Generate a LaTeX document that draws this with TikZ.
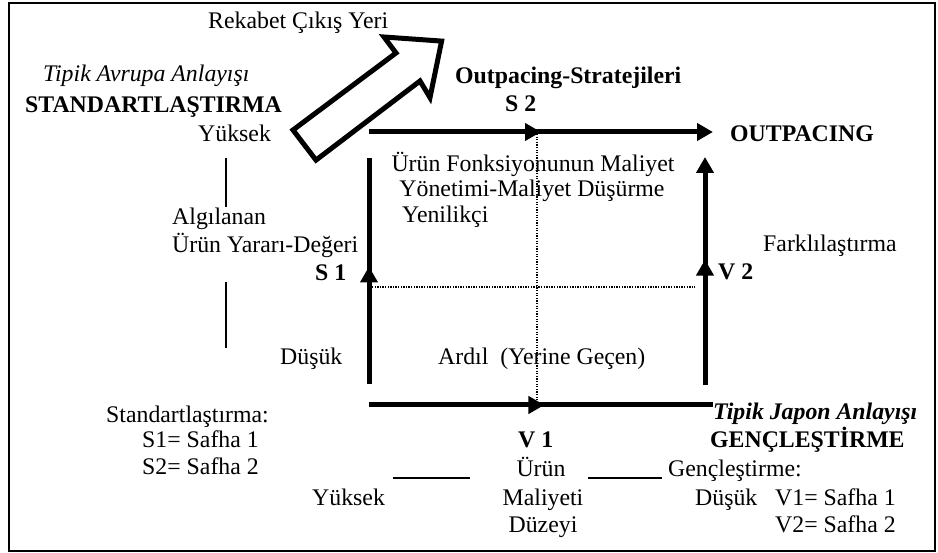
\documentclass[tikz,border=0pt]{standalone}
\usepackage{fontspec}
\setmainfont{Liberation Serif}
\usetikzlibrary{arrows.meta,decorations.markings}
\begin{document}
\begin{tikzpicture}[x=1pt,y=-1pt,
  txt/.style={anchor=base west,inner sep=0pt,font=\fontsize{23.8}{26}\selectfont},
  txtc/.style={anchor=base,inner sep=0pt,font=\fontsize{23.8}{26}\selectfont},
  bld/.style={anchor=base west,inner sep=0pt,font=\fontsize{23.8}{26}\selectfont\bfseries},
  axisline/.style={line width=5pt},
  tipend/.style={-{Triangle[length=16pt,width=17pt]}},
  midarrow/.style={postaction={decorate},decoration={markings,
     mark=at position #1 with {\arrow{Triangle[length=16pt,width=17pt]}}}},
  dotline/.style={line width=1.3pt,dash pattern=on 1.3pt off 1.3pt},
  thinline/.style={line width=1.2pt}
]
\useasboundingbox (0,0) rectangle (938,553);
\draw[line width=1.8pt] (9,3) rectangle (935,551);

% axis corners
\coordinate (L0) at (369,384);
\coordinate (L1) at (369,158);
\coordinate (T0) at (369,132);
\coordinate (T1) at (713,132);
\coordinate (B0) at (369,405);
\coordinate (B1) at (713,405);
\coordinate (R0) at (705,385);
\coordinate (R1) at (705,157);
\coordinate (DV0) at (537,134);
\coordinate (DV1) at (537,404);
\coordinate (DH0) at (372,287);
\coordinate (DH1) at (695,287);

\draw[dotline] (DV0) -- (DV1);
\draw[dotline] (DH0) -- (DH1);
\draw[axisline,midarrow=0.52] (L0) -- (L1);
\draw[axisline,tipend,midarrow=0.5] (T0) -- (T1);
\draw[axisline,midarrow=0.51] (B0) -- (B1);
\draw[axisline,tipend,midarrow=0.55] (R0) -- (R1);

% big outlined arrow
\draw[line width=5pt,fill=white,line join=miter]
  (293,130) -- (396,53) -- (384,37) -- (441.6,41.1) -- (430,97.6)
  -- (420,81) -- (316,160.1) -- cycle;

% thin axis-label lines
\coordinate (V0) at (226,158);
\coordinate (V1) at (226,207);
\coordinate (V2) at (226,282);
\coordinate (V3) at (226,348);
\draw[thinline] (V0) -- (V1);
\draw[thinline] (V2) -- (V3);
\coordinate (H0) at (393,478);
\coordinate (H1) at (470,478);
\coordinate (H2) at (588,478);
\coordinate (H3) at (662,478);
\draw[thinline] (H0) -- (H1);
\draw[thinline] (H2) -- (H3);

% texts
\node[txt] (rek) at (208,29) {Rekabet Çıkış Yeri};
\node[txt,font=\fontsize{23.8}{26}\selectfont\itshape] (avr) at (43,82) {Tipik Avrupa Anlayışı};
\node[bld] (std) at (25,113) {STANDARTLAŞTIRMA};
\node[txt] (yuk1) at (198,142) {Yüksek};
\node[txt] (alg) at (172,225) {Algılanan};
\node[txt] (ury) at (172,253) {Ürün Yararı-Değeri};
\node[bld] (s1) at (315,281) {S 1};
\node[txt] (dus1) at (280,365) {Düşük};
\node[txt] (ard) at (438,365) {Ardıl\ \ (Yerine Geçen)};
\node[txtc] (ufm) at (533,172) {Ürün Fonksiyonunun Maliyet};
\node[txtc] (ymd) at (532,197) {Yönetimi-Maliyet Düşürme};
\node[txt] (yen) at (402,223) {Yenilikçi};
\node[bld] (ops) at (455,84) {Outpacing-Stratejileri};
\node[bld] (s2) at (505,112) {S 2};
\node[bld] (outp) at (730,142) {OUTPACING};
\node[txt] (fark) at (763,252) {Farklılaştırma};
\node[bld] (v2) at (718,280) {V 2};
\node[txt] (stdl) at (106,423) {Standartlaştırma:};
\node[txt] (s1s) at (142,448) {S1= Safha 1};
\node[txt] (s2s) at (142,475) {S2= Safha 2};
\node[txt] (yuk2) at (312,505) {Yüksek};
\node[bld] (v1) at (518,448) {V 1};
\node[txtc] (urun) at (541,477) {Ürün};
\node[txtc] (mal) at (543,505) {Maliyeti};
\node[txtc] (duz) at (543,532) {Düzeyi};
\node[txt] (genc) at (668,477) {Gençleştirme:};
\node[txt] (dus2) at (695,505) {Düşük};
\node[txt] (v1s) at (775,505) {V1= Safha 1};
\node[txt] (v2s) at (775,532) {V2= Safha 2};
\node[txt,font=\fontsize{23.8}{26}\selectfont\bfseries\itshape] (jap) at (713,420) {Tipik Japon Anlayışı};
\node[bld] (gen) at (710,448) {GENÇLEŞTİRME};
\end{tikzpicture}
\end{document}
